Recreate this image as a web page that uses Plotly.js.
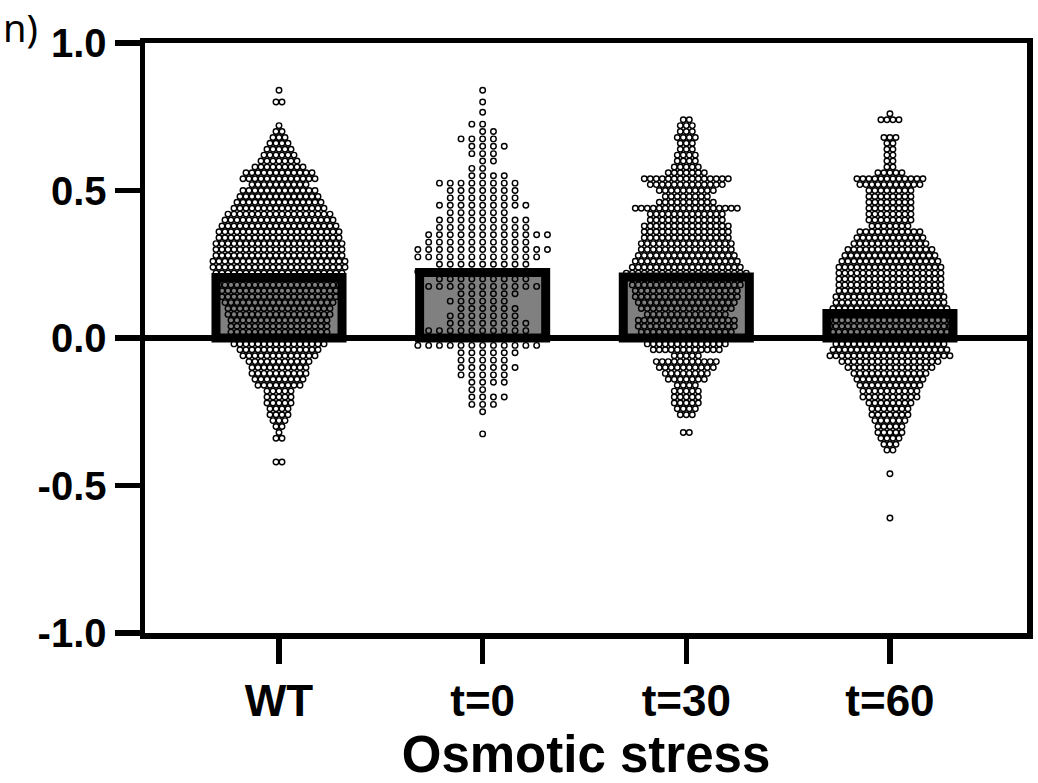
<!DOCTYPE html>
<html>
<head>
<meta charset="utf-8">
<script src="https://cdn.plot.ly/plotly-3.0.1.min.js"></script>
<style>html,body{margin:0;padding:0;background:#fff;}#chart{width:1038px;height:783px;}</style>
</head>
<body>
<div id="chart"></div>
<script>
// ---- data ----
const categories = ['WT', 't=0', 't=30', 't=60'];
const barMeans = [0.205, 0.222, 0.207, 0.083];
const yTickVals = [-1, -0.5, 0, 0.5, 1];
const yTickText = ['-1.0', '-0.5', '0.0', '0.5', '1.0'];
const xTitle = 'Osmotic stress';

// per-group dot rows: value of the row and number of dots in it
const wtRowY = [0.84,0.80,0.72,0.70,0.68,0.66,0.64,0.62,0.60,0.58,0.56,0.54,0.52,0.50,0.48,0.46,0.44,0.42,0.40,0.38,0.36,0.34,0.32,0.30,0.28,0.26,0.24,0.22,0.20,0.18,0.16,0.14,0.12,0.10,0.08,0.06,0.04,0.02,0.00,-0.02,-0.04,-0.06,-0.08,-0.10,-0.12,-0.14,-0.16,-0.18,-0.20,-0.22,-0.24,-0.26,-0.28,-0.30,-0.32,-0.34,-0.42];
const wtRowN = [1,2,1,2,3,4,5,6,7,9,12,13,10,13,14,15,16,18,19,20,21,21,22,22,22,23,23,22,21,21,20,20,19,18,18,17,17,17,16,16,14,13,11,10,10,9,8,5,5,5,4,4,3,2,1,2,2];

const t0RowY = [0.84,0.80,0.765,0.725,0.70,0.675,0.65,0.625,0.60,0.575,0.55,0.525,0.50,0.475,0.45,0.425,0.40,0.375,0.35,0.325,0.30,0.275,0.25,0.225,0.20,0.175,0.15,0.125,0.10,0.075,0.05,0.025,0.00,-0.025,-0.05,-0.075,-0.10,-0.125,-0.15,-0.175,-0.20,-0.225,-0.25,-0.325];
const t0RowN = [1,1,1,2,2,4,4,3,2,2,4,8,7,7,9,6,9,9,12,10,13,12,9,12,9,11,6,6,6,7,8,10,9,12,6,5,6,5,4,2,4,3,1,1];

const t30RowY = [0.74,0.72,0.70,0.68,0.66,0.64,0.62,0.60,0.58,0.56,0.54,0.52,0.50,0.48,0.46,0.44,0.42,0.40,0.38,0.36,0.34,0.32,0.30,0.28,0.26,0.24,0.22,0.20,0.18,0.16,0.14,0.12,0.10,0.08,0.06,0.04,0.02,0.00,-0.02,-0.04,-0.06,-0.08,-0.10,-0.12,-0.14,-0.16,-0.18,-0.20,-0.22,-0.24,-0.26,-0.32];
const t30RowN = [2,3,3,4,3,3,4,4,5,7,15,13,10,8,10,18,13,13,15,15,15,16,16,17,18,19,21,19,19,18,18,17,16,14,17,17,16,15,14,12,5,11,10,8,7,4,5,5,5,4,3,2];

const t60RowY = [0.76,0.74,0.72,0.70,0.68,0.66,0.64,0.62,0.60,0.58,0.56,0.54,0.52,0.50,0.48,0.46,0.44,0.42,0.40,0.38,0.36,0.34,0.32,0.30,0.28,0.26,0.24,0.22,0.20,0.18,0.16,0.14,0.12,0.10,0.08,0.06,0.04,0.02,0.00,-0.02,-0.04,-0.06,-0.08,-0.10,-0.12,-0.14,-0.16,-0.18,-0.20,-0.22,-0.24,-0.26,-0.28,-0.30,-0.32,-0.34,-0.36,-0.38,-0.46,-0.61];
const t60RowN = [1,4,0,0,3,2,2,2,2,2,5,12,11,8,8,8,8,8,8,7,11,12,13,15,16,17,18,18,18,18,18,19,19,20,21,21,21,20,19,19,20,21,17,15,13,12,11,10,10,8,7,7,6,5,5,4,3,2,1,1];

// ---- layout constants ----
const W = 1038, H = 783;
const M = {l: 145, r: 11, t: 43, b: 150};
const xRange = [-0.658, 3.673];
const pxPerUnit = (W - M.l - M.r) / (xRange[1] - xRange[0]);

const groups = [
  {rowY: wtRowY, rowN: wtRowN, spacing: 6.0, mode: 'center'},
  {rowY: t0RowY, rowN: t0RowN, spacing: 10.8, mode: 'columns'},
  {rowY: t30RowY, rowN: t30RowN, spacing: 6.0, mode: 'center'},
  {rowY: t60RowY, rowN: t60RowN, spacing: 6.0, mode: 'center'}
];

function swarm(g, gi) {
  const xs = [], ys = [];
  g.rowY.forEach((v, r) => {
    const n = g.rowN[r];
    for (let j = 0; j < n; j++) {
      let k;
      if (g.mode === 'columns') {
        const m = Math.ceil(j / 2);
        const sgn = ((j % 2 === 1) ? 1 : -1) * (r % 2 === 0 ? 1 : -1);
        k = j === 0 ? 0 : sgn * m;
      } else {
        k = j - (n - 1) / 2;
      }
      xs.push(gi + k * g.spacing / pxPerUnit);
      ys.push(v);
    }
  });
  return {xs, ys};
}

const traces = [{
  type: 'bar',
  x: categories.map((c, i) => i),
  y: barMeans,
  width: 0.619,
  marker: {color: '#808080', line: {color: '#000', width: 9}},
  showlegend: false,
  hoverinfo: 'skip'
}];

groups.forEach((g, gi) => {
  const s = swarm(g, gi);
  traces.push({
    type: 'scatter',
    mode: 'markers',
    x: s.xs,
    y: s.ys,
    name: categories[gi],
    marker: {symbol: 'circle-open', size: 5.5, color: '#000', line: {width: 1.45, color: '#000'}},
    showlegend: false,
    cliponaxis: false
  });
});

const fam = 'Liberation Sans, Arial, sans-serif';

const layout = {
  width: W, height: H,
  margin: M,
  paper_bgcolor: '#fff', plot_bgcolor: '#fff',
  showlegend: false,
  xaxis: {
    range: xRange,
    tickmode: 'array',
    tickvals: categories.map((c, i) => i),
    ticktext: categories,
    ticks: 'outside', ticklen: 25, tickwidth: 5.5, tickcolor: '#000',
    showline: true, linewidth: 5.5, linecolor: '#000', mirror: true,
    showgrid: false, zeroline: false,
    tickfont: {family: fam, size: 44, color: '#000', weight: 'bold'},
    title: {text: xTitle, font: {family: fam, size: 51, color: '#000', weight: 'bold'}, standoff: 24},
    fixedrange: true
  },
  yaxis: {
    range: [-1, 1],
    tickmode: 'array',
    tickvals: yTickVals,
    ticktext: yTickText,
    ticks: 'outside', ticklen: 25, tickwidth: 5.5, tickcolor: '#000',
    showline: true, linewidth: 5.5, linecolor: '#000', mirror: true,
    showgrid: false,
    zeroline: true, zerolinewidth: 5.5, zerolinecolor: '#000',
    tickfont: {family: fam, size: 40, color: '#000', weight: 'bold'},
    fixedrange: true
  },
  annotations: [{
    text: 'n)',
    xref: 'paper', yref: 'paper',
    x: (1 - M.l) / (W - M.l - M.r), y: 1 + (M.t - 27) / (H - M.t - M.b),
    xanchor: 'left', yanchor: 'middle',
    showarrow: false,
    font: {family: 'Noto Sans, Open Sans, sans-serif', size: 38, color: '#000'}
  }]
};

Plotly.newPlot('chart', traces, layout, {displayModeBar: false, staticPlot: true});
</script>
</body>
</html>
